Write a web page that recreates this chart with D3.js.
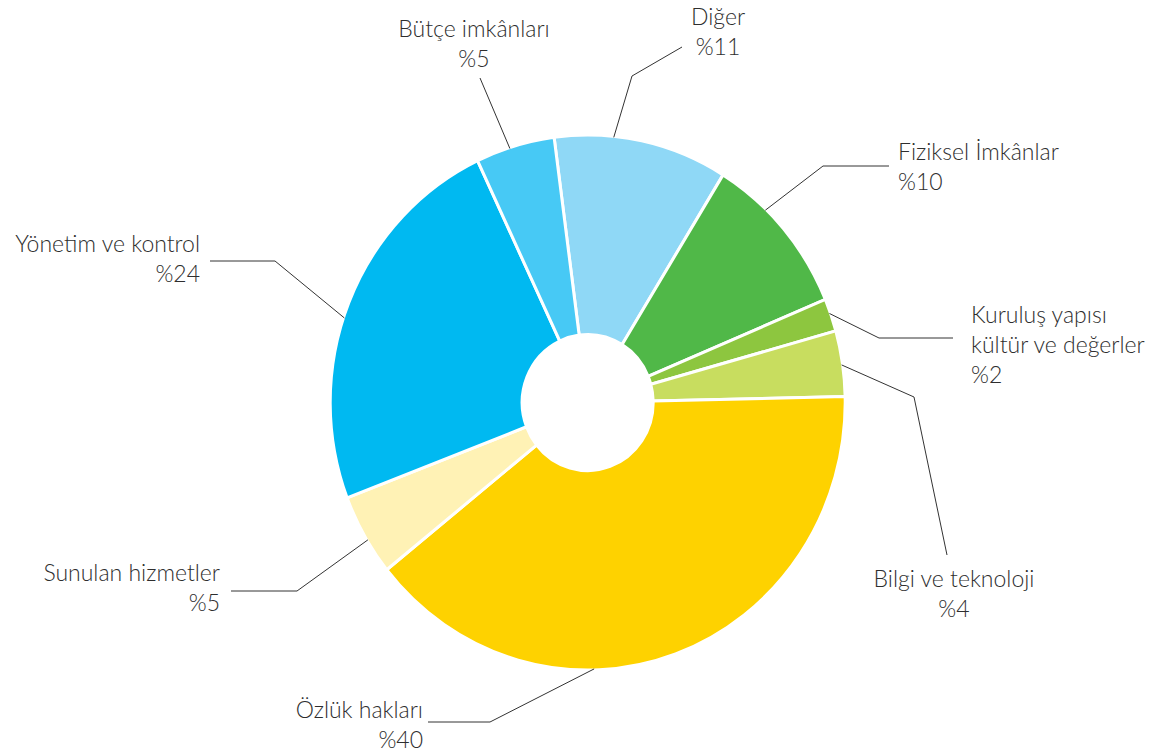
<!DOCTYPE html>
<html>
<head>
<meta charset="utf-8">
<script src="https://cdn.jsdelivr.net/npm/d3@7"></script>
<style>
  body { margin: 0; background: #fff; }
  svg text { font-family: Lato, "Open Sans", sans-serif; font-weight: 300; fill: #2e2e2e; }
</style>
</head>
<body>
<svg id="chart" width="1155" height="753"></svg>
<script>
// slices, clockwise from the top
const categories = ['Diğer', 'Fiziksel İmkânlar', 'Kuruluş yapısı|kültür ve değerler', 'Bilgi ve teknoloji',
  'Özlük hakları', 'Sunulan hizmetler', 'Yönetim ve kontrol', 'Bütçe imkânları']
const shares = [11, 10, 2, 4, 40, 5, 24, 5]
const colors = ['#8fd8f6', '#50b848', '#8dc63f', '#c8dd5f', '#fed200', '#fff2b5', '#00b9f1', '#47c9f5']

// label placement (text anchor, first baseline, leader elbows, where on the slice the leader lands)
const labelLayout = [
  {x: 718, y: 25, anchor: 'middle', elbows: [[682, 47], [632, 76]], t: 0.34},
  {x: 898, y: 160, anchor: 'start', elbows: [[889, 166], [823, 166]], t: 0.34},
  {x: 971, y: 323, anchor: 'start', elbows: [[953, 338], [879, 338]], t: 0.44},
  {x: 954, y: 587, anchor: 'middle', elbows: [[947, 555], [914, 397]], t: 0.52},
  {x: 423, y: 718, anchor: 'end', elbows: [[428, 722], [490, 722]], t: 0.63},
  {x: 220, y: 581, anchor: 'end', elbows: [[231, 591], [297, 591]], t: 0.43},
  {x: 200, y: 252, anchor: 'end', elbows: [[210, 261], [275, 261]], t: 0.46},
  {x: 474, y: 37, anchor: 'middle', elbows: [[480, 78]], t: 0.43}
]

const CX = 587.7, CY = 402.5
const OUTER = 257.5, INNER = 65.5
const Y_STRETCH = 1.039
const START = -7.5 * Math.PI / 180
const LINE_H = 30

const svg = d3.select('#chart')

const pie = d3.pie().sort(null).value(d => d.share)
  .startAngle(START).endAngle(START + 2 * Math.PI)

const rows = categories.map((c, i) => ({name: c, share: shares[i], color: colors[i], layout: labelLayout[i]}))
const arcs = pie(rows)

const arc = d3.arc().innerRadius(INNER).outerRadius(OUTER)

const donut = svg.append('g')
  .attr('transform', `translate(${CX},${CY}) scale(1,${Y_STRETCH})`)

donut.selectAll('path.slice')
  .data(arcs)
  .enter()
  .append('path')
  .attr('class', 'slice')
  .attr('d', arc)
  .style('fill', d => d.data.color)
  .style('stroke', '#fff')
  .style('stroke-width', 3)
  .attr('vector-effect', 'non-scaling-stroke')

// leader lines
const line = d3.line()
const leaderEnd = d => {
  const a = d.startAngle + (d.endAngle - d.startAngle) * d.data.layout.t
  return [CX + Math.sin(a) * (OUTER - 1), CY - Math.cos(a) * (OUTER - 1) * Y_STRETCH]
}

svg.selectAll('path.leader')
  .data(arcs)
  .enter()
  .append('path')
  .attr('class', 'leader')
  .attr('d', d => line([...d.data.layout.elbows, leaderEnd(d)]))
  .style('fill', 'none')
  .style('stroke', '#333')
  .style('stroke-width', 1)

// labels
const labels = svg.selectAll('text.label')
  .data(arcs)
  .enter()
  .append('text')
  .attr('class', 'label')
  .attr('text-anchor', d => d.data.layout.anchor)
  .style('font-size', '23px')

labels.each(function(d){
  const lines = d.data.name.split('|').concat('%' + d.data.share)
  d3.select(this).selectAll('tspan')
    .data(lines)
    .enter()
    .append('tspan')
    .attr('x', d.data.layout.x)
    .attr('y', (s, i) => d.data.layout.y + i * LINE_H)
    .text(s => s)
})
</script>
</body>
</html>
